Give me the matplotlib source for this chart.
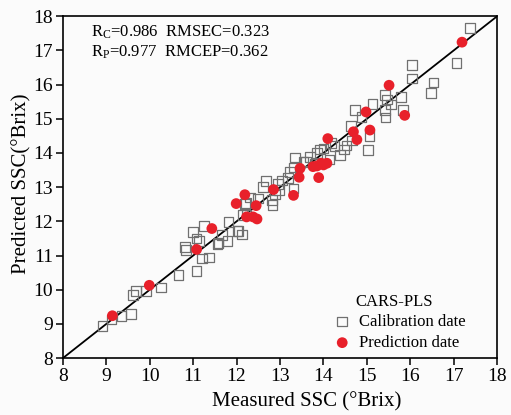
import numpy as np
import matplotlib
matplotlib.use("Agg")
import matplotlib.pyplot as plt

plt.rcParams['font.family'] = ['Liberation Serif', 'DejaVu Serif']
plt.rcParams['mathtext.fontset'] = 'custom'
plt.rcParams['mathtext.rm'] = 'Liberation Serif'
plt.rcParams['mathtext.it'] = 'Liberation Serif:italic'

# calibration set (measured, predicted)
cal_x = [8.91, 9.12, 9.35, 9.57, 9.62, 9.68, 9.91, 10.26, 10.66, 11.08,
         10.81, 10.83, 11.0, 11.08, 11.14, 11.2, 11.36, 11.25, 11.56, 11.67,
         11.79, 11.81, 12.02, 12.12, 12.22, 12.15, 11.58, 12.04, 12.23, 12.19,
         12.31, 12.5, 12.61, 12.68, 12.81, 12.83, 12.88, 12.98, 13.19, 13.23,
         13.31, 13.35, 13.31, 13.54, 13.69, 13.81, 13.92, 14.0, 14.14, 14.17,
         14.38, 14.47, 14.53, 14.65, 14.63, 14.73, 14.88, 15.03, 15.06, 15.13,
         15.42, 15.46, 15.42, 15.43, 15.56, 15.79, 15.83, 16.04, 16.04, 16.53,
         16.48, 17.06, 17.38, 13.6, 13.85, 14.25, 12.95, 13.05]
cal_y = [8.94, 9.13, 9.23, 9.29, 9.84, 9.97, 9.97, 10.07, 10.44, 10.54,
         11.25, 11.16, 11.69, 11.5, 11.43, 10.91, 10.94, 11.86, 11.33, 11.6,
         11.43, 11.99, 11.71, 11.62, 12.54, 12.18, 11.37, 11.72, 12.2, 12.5,
         12.7, 12.67, 13.01, 13.18, 12.62, 12.47, 12.78, 12.91, 13.26, 13.45,
         12.96, 13.87, 13.58, 13.74, 13.89, 13.69, 14.1, 14.13, 13.81, 14.29,
         13.94, 14.1, 14.22, 14.37, 14.78, 15.25, 15.06, 14.08, 14.49, 15.44,
         15.69, 15.56, 15.25, 15.04, 15.42, 15.64, 15.25, 16.57, 16.18, 16.06,
         15.76, 16.63, 17.65, 13.75, 14.0, 14.2, 13.1, 13.2]

# prediction set (measured, predicted)
pre_x = [9.14, 9.99, 11.08, 11.43, 11.99, 12.19, 12.23, 12.38, 12.47, 12.45,
         12.85, 13.31, 13.44, 13.46, 13.76, 13.89, 13.95, 14.0, 14.08, 13.85,
         14.1, 14.69, 14.77, 14.98, 15.07, 15.51, 15.87, 17.19]
pre_y = [9.24, 10.13, 11.18, 11.79, 12.52, 12.78, 12.13, 12.13, 12.07, 12.46,
         12.93, 12.76, 13.29, 13.55, 13.6, 13.28, 13.7, 13.65, 13.7, 13.62,
         14.42, 14.62, 14.39, 15.2, 14.67, 15.98, 15.1, 17.24]

fig = plt.figure(figsize=(5.11, 4.15), dpi=100, facecolor='#fbfbfb')
ax = fig.add_axes([0.123, 0.137, 0.850, 0.824])
ax.set_facecolor('#fbfbfb')

ax.plot([8, 18], [8, 18], color='black', lw=1.3, zorder=1)
ax.scatter(cal_x, cal_y, marker='s', s=48, facecolors='none',
           edgecolors='#707070', linewidths=0.9, label='Calibration date', zorder=2)
ax.scatter(pre_x, pre_y, marker='o', s=60, color='#e8202a',
           edgecolors='none', label='Prediction date', zorder=3)

ax.set_xlim(8, 18)
ax.set_ylim(8, 18)
ax.set_xticks(range(8, 19))
ax.set_yticks(range(8, 19))
ax.tick_params(direction='out', length=5, width=1.1, labelsize=14, pad=2)
for sp in ax.spines.values():
    sp.set_linewidth(1.2)

ax.set_xlabel('Measured SSC (°Brix)', fontsize=15, va='center')
ax.xaxis.set_label_coords(0.562, -0.129)
ax.set_ylabel('Predicted SSC(°Brix)', fontsize=15, va='center')
ax.yaxis.set_label_coords(-0.094, 0.51)

ax.text(0.064, 0.953, 'R$_\\mathrm{C}$=0.986  RMSEC=0.323', transform=ax.transAxes,
        fontsize=12, va='center')
ax.text(0.064, 0.893, 'R$_\\mathrm{P}$=0.977  RMCEP=0.362', transform=ax.transAxes,
        fontsize=12, va='center')

ax.text(0.673, 0.164, 'CARS-PLS', transform=ax.transAxes, fontsize=12, va='center')
ax.legend(loc='upper left', bbox_to_anchor=(0.624, 0.129), frameon=False,
          fontsize=12, handlelength=1.0, handletextpad=0.5, labelspacing=0.3,
          borderpad=0, borderaxespad=0)

fig.savefig('out.png', dpi=100, facecolor=fig.get_facecolor())
